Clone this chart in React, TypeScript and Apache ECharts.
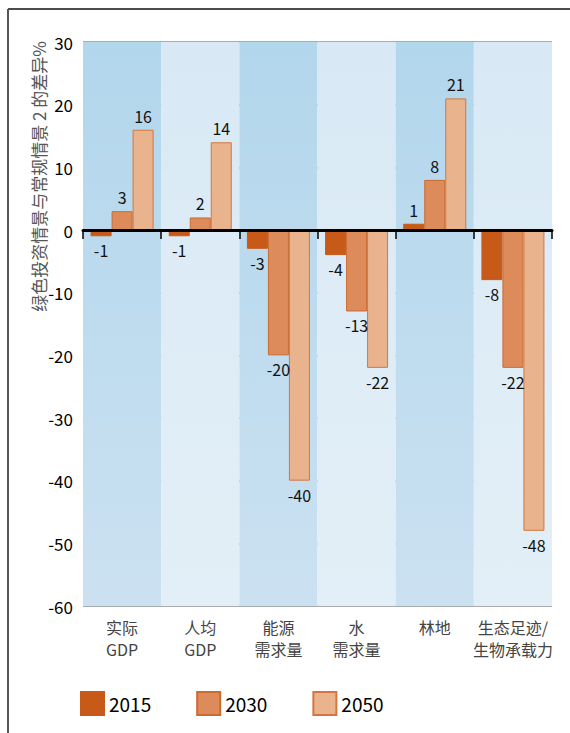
import React, { useEffect, useRef } from "react";
import * as echarts from "echarts";

const categories = ["实际\nGDP", "人均\nGDP", "能源\n需求量", "水\n需求量", "林地", "生态足迹/\n生物承载力"];
const seriesNames = ["2015", "2030", "2050"];
const values2015 = [-1, -1, -3, -4, 1, -8];
const values2030 = [3, 2, -20, -13, 8, -22];
const values2050 = [16, 14, -40, -22, 21, -48];
const yTitle = "绿色投资情景与常规情景 2 的差异%";

const FONT = "'Noto Sans CJK SC', 'Noto Sans', sans-serif";

export default function App() {
  const ref = useRef<HTMLDivElement>(null);
  useEffect(() => {
    if (!ref.current) return;
    const chart = echarts.init(ref.current, undefined, { renderer: "svg" });
    const grad = (a: string, b: string) =>
      new echarts.graphic.LinearGradient(0, 0, 0, 1, [
        { offset: 0, color: a },
        { offset: 1, color: b },
      ]);
    const fills = ["#c85a19", "#dd8b5b", "#e9b38e"];
    const borders = ["#c85a19", "#cc6a30", "#d4763f"];
    const data = [values2015, values2030, values2050];
    chart.setOption({
      animation: false,
      textStyle: { fontFamily: FONT },
      grid: { left: 83, right: 18, top: 42, bottom: 127 },
      legend: {
        left: 75,
        top: 686,
        icon: "rect",
        itemWidth: 23,
        itemHeight: 23,
        itemGap: 45,
        textStyle: { fontSize: 19, color: "#000", fontFamily: FONT },
        data: seriesNames,
      },
      xAxis: [
        {
          type: "category",
          data: categories,
          position: "bottom",
          axisLine: { show: false, onZero: false },
          axisTick: { show: false },
          axisLabel: { interval: 0, color: "#444", fontSize: 16, lineHeight: 22, margin: 10, fontFamily: FONT },
          splitArea: {
            show: true,
            interval: 0,
            areaStyle: { color: [grad("#b2d6ec", "#cbe1f1"), grad("#d8e9f5", "#e3eff7")] },
          },
        },
        {
          type: "category",
          data: categories,
          position: "top",
          z: 10,
          axisLine: { show: true, onZero: true, lineStyle: { color: "#000", width: 3 } },
          axisTick: { show: true, inside: true, interval: 0, length: 9, lineStyle: { color: "#000", width: 1.5 } },
          axisLabel: { show: false, interval: 0 },
        },
      ],
      yAxis: {
        type: "value",
        min: -60,
        max: 30,
        interval: 10,
        axisLine: { show: false },
        axisTick: { show: false },
        axisLabel: { color: "#000", fontSize: 17, margin: 10, fontFamily: FONT },
        splitLine: { lineStyle: { color: "#8c9096", width: 1.5 } },
      },
      series: seriesNames.map((name, i) => ({
        name,
        type: "bar",
        xAxisIndex: 0,
        barWidth: 21,
        barGap: "0%",
        data: data[i].map((v) => ({
          value: v,
          label: { position: v >= 0 ? "top" : "bottom" },
        })),
        itemStyle: { color: fills[i], borderColor: borders[i], borderWidth: 1 },
        label: {
          show: true,
          color: "#111",
          fontSize: 16,
          distance: 6,
          fontFamily: FONT,
        },
      })),
      graphic: [
        {
          type: "line",
          shape: { x1: 8, y1: 9, x2: 570, y2: 9 },
          style: { stroke: "#111", lineWidth: 1.5 },
        },
        {
          type: "line",
          shape: { x1: 8, y1: 9, x2: 8, y2: 733 },
          style: { stroke: "#555", lineWidth: 2 },
        },
        {
          type: "text",
          x: 38,
          y: 41,
          rotation: Math.PI / 2,
          style: {
            text: yTitle,
            fill: "#555",
            fontSize: 17,
            fontFamily: FONT,
            align: "right",
            verticalAlign: "middle",
          },
        },
      ],
    });
    return () => chart.dispose();
  }, []);
  return (
    <div
      ref={ref}
      style={{ position: "fixed", left: 0, top: 0, width: 570, height: 733, background: "#fff" }}
    />
  );
}
